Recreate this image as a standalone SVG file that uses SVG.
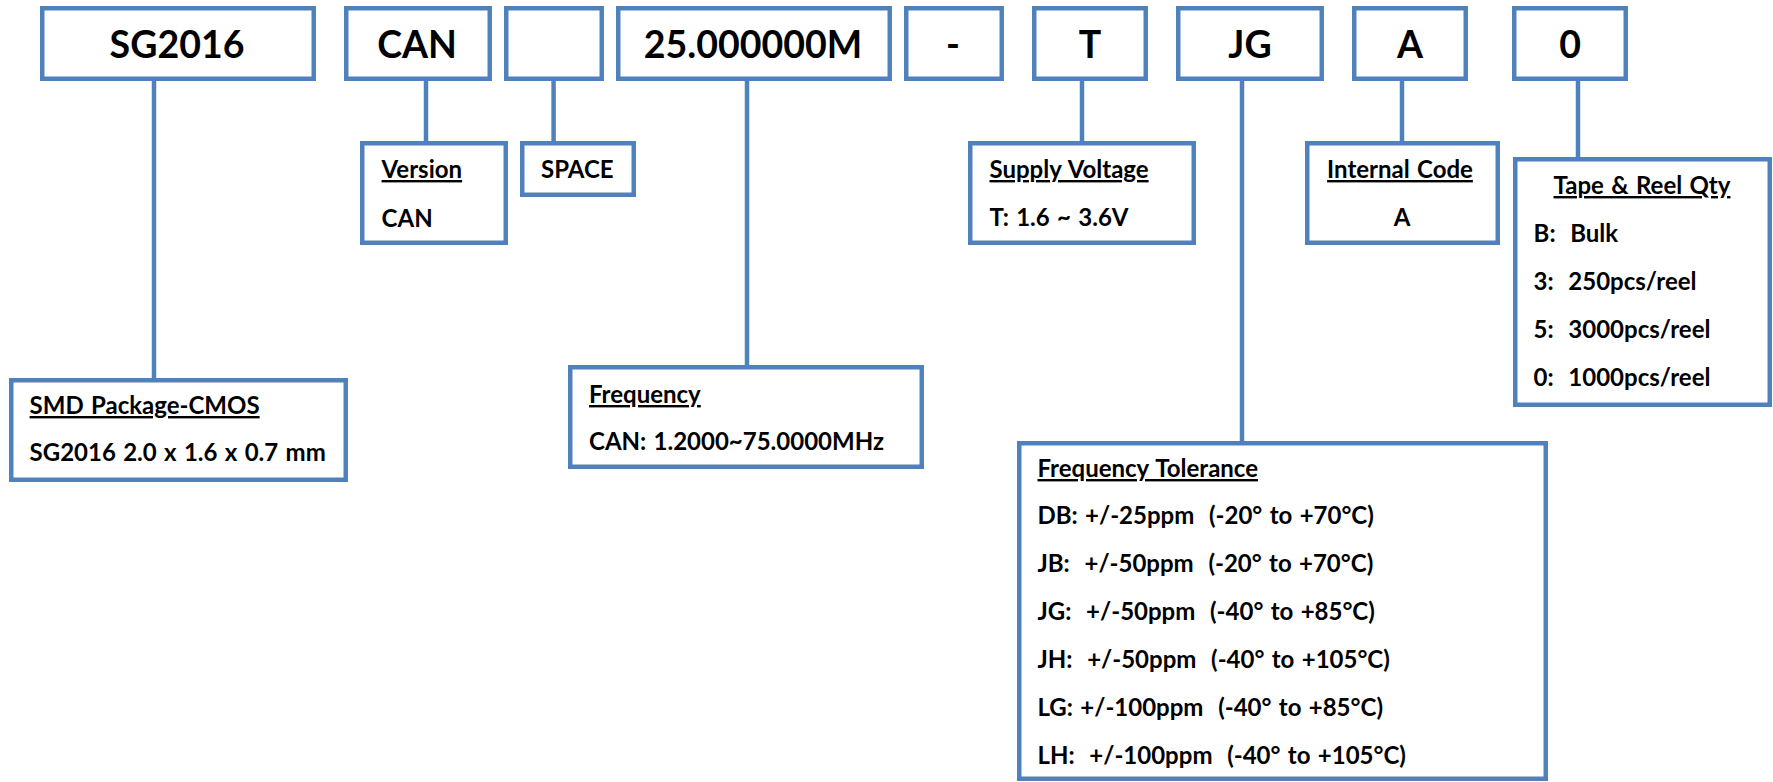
<svg xmlns="http://www.w3.org/2000/svg" width="1773" height="782" viewBox="0 0 1773 782">
<style>
.box{fill:#ffffff;stroke:#4F81BD;stroke-width:4.5}
.con line{stroke:#4F81BD;stroke-width:4.5}
text{font-family:Lato,"Liberation Sans",sans-serif;font-weight:bold;fill:#000;white-space:pre}
.big{font-size:37.5px;text-anchor:middle}
.sm{font-size:24px;word-spacing:1.5px}
.mid{text-anchor:middle}
.u{text-decoration:underline}
</style>
<rect width="1773" height="782" fill="#ffffff"/>
<g id="connectors" class="con">
<line x1="154" y1="80" x2="154" y2="379"/>
<line x1="426" y1="80" x2="426" y2="142"/>
<line x1="553.6" y1="80" x2="553.6" y2="142"/>
<line x1="747" y1="80" x2="747" y2="366"/>
<line x1="1082" y1="80" x2="1082" y2="142"/>
<line x1="1242" y1="80" x2="1242" y2="442"/>
<line x1="1402" y1="80" x2="1402" y2="142"/>
<line x1="1578" y1="80" x2="1578" y2="158"/>
</g>
<g id="code-sg2016"><rect class="box" x="42.25" y="8.25" width="271.5" height="70.5"/><text class="big" x="177" y="58">SG2016</text></g>
<g id="code-can"><rect class="box" x="346.25" y="8.25" width="143.5" height="70.5"/><text class="big" x="417" y="58">CAN</text></g>
<g id="code-space"><rect class="box" x="506.25" y="8.25" width="95.5" height="70.5"/></g>
<g id="code-freq"><rect class="box" x="618.25" y="8.25" width="271.5" height="70.5"/><text class="big" x="753" y="58">25.000000M</text></g>
<g id="code-dash"><rect class="box" x="906.25" y="8.25" width="95.5" height="70.5"/><text class="big" x="953" y="58">-</text></g>
<g id="code-t"><rect class="box" x="1034.25" y="8.25" width="111.5" height="70.5"/><text class="big" x="1090" y="58">T</text></g>
<g id="code-jg"><rect class="box" x="1178.25" y="8.25" width="143.5" height="70.5"/><text class="big" x="1250" y="58">JG</text></g>
<g id="code-a"><rect class="box" x="1354.25" y="8.25" width="111.5" height="70.5"/><text class="big" x="1410" y="58">A</text></g>
<g id="code-0"><rect class="box" x="1514.25" y="8.25" width="111.5" height="70.5"/><text class="big" x="1570" y="58">0</text></g>

<g id="version"><rect class="box" x="362.25" y="143.25" width="143.5" height="99.5"/><text class="sm u" x="381.6" y="178">Version</text><text class="sm" x="381.6" y="227">CAN</text></g>
<g id="space"><rect class="box" x="522.25" y="143.25" width="111.5" height="51.5"/><text class="sm" x="541" y="178">SPACE</text></g>
<g id="supply-voltage"><rect class="box" x="970.25" y="143.25" width="223.5" height="99.5"/><text class="sm u" x="989.5" y="178">Supply Voltage</text><text class="sm" x="989.5" y="226">T: 1.6 ~ 3.6V</text></g>
<g id="internal-code"><rect class="box" x="1307.25" y="143.25" width="190.5" height="99.5"/><text class="sm u mid" x="1400" y="178">Internal Code</text><text class="sm mid" x="1402" y="226">A</text></g>
<g id="tape-reel"><rect class="box" x="1515.25" y="159.25" width="254.5" height="245.5"/><text class="sm u mid" x="1642" y="194">Tape &amp; Reel Qty</text><text class="sm" x="1533.6" y="242">B:  Bulk</text><text class="sm" x="1533.6" y="290">3:  250pcs/reel</text><text class="sm" x="1533.6" y="338">5:  3000pcs/reel</text><text class="sm" x="1533.6" y="386">0:  1000pcs/reel</text></g>
<g id="smd-package"><rect class="box" x="11.25" y="380.25" width="334.5" height="99.5"/><text class="sm u" x="29.6" y="414">SMD Package-CMOS</text><text class="sm" x="29.6" y="461">SG2016 2.0 x 1.6 x 0.7 mm</text></g>
<g id="frequency"><rect class="box" x="570.25" y="367.25" width="351.5" height="99.5"/><text class="sm u" x="589" y="403">Frequency</text><text class="sm" x="589" y="450">CAN: 1.2000~75.0000MHz</text></g>
<g id="frequency-tolerance"><rect class="box" x="1019.25" y="443.25" width="526.5" height="335.5"/><text class="sm u" x="1037.5" y="477">Frequency Tolerance</text><text class="sm" x="1037.5" y="524">DB: +/-25ppm  (-20° to +70°C)</text><text class="sm" x="1037.5" y="572">JB:  +/-50ppm  (-20° to +70°C)</text><text class="sm" x="1037.5" y="620">JG:  +/-50ppm  (-40° to +85°C)</text><text class="sm" x="1037.5" y="668">JH:  +/-50ppm  (-40° to +105°C)</text><text class="sm" x="1037.5" y="716">LG: +/-100ppm  (-40° to +85°C)</text><text class="sm" x="1037.5" y="764">LH:  +/-100ppm  (-40° to +105°C)</text></g>
</svg>
